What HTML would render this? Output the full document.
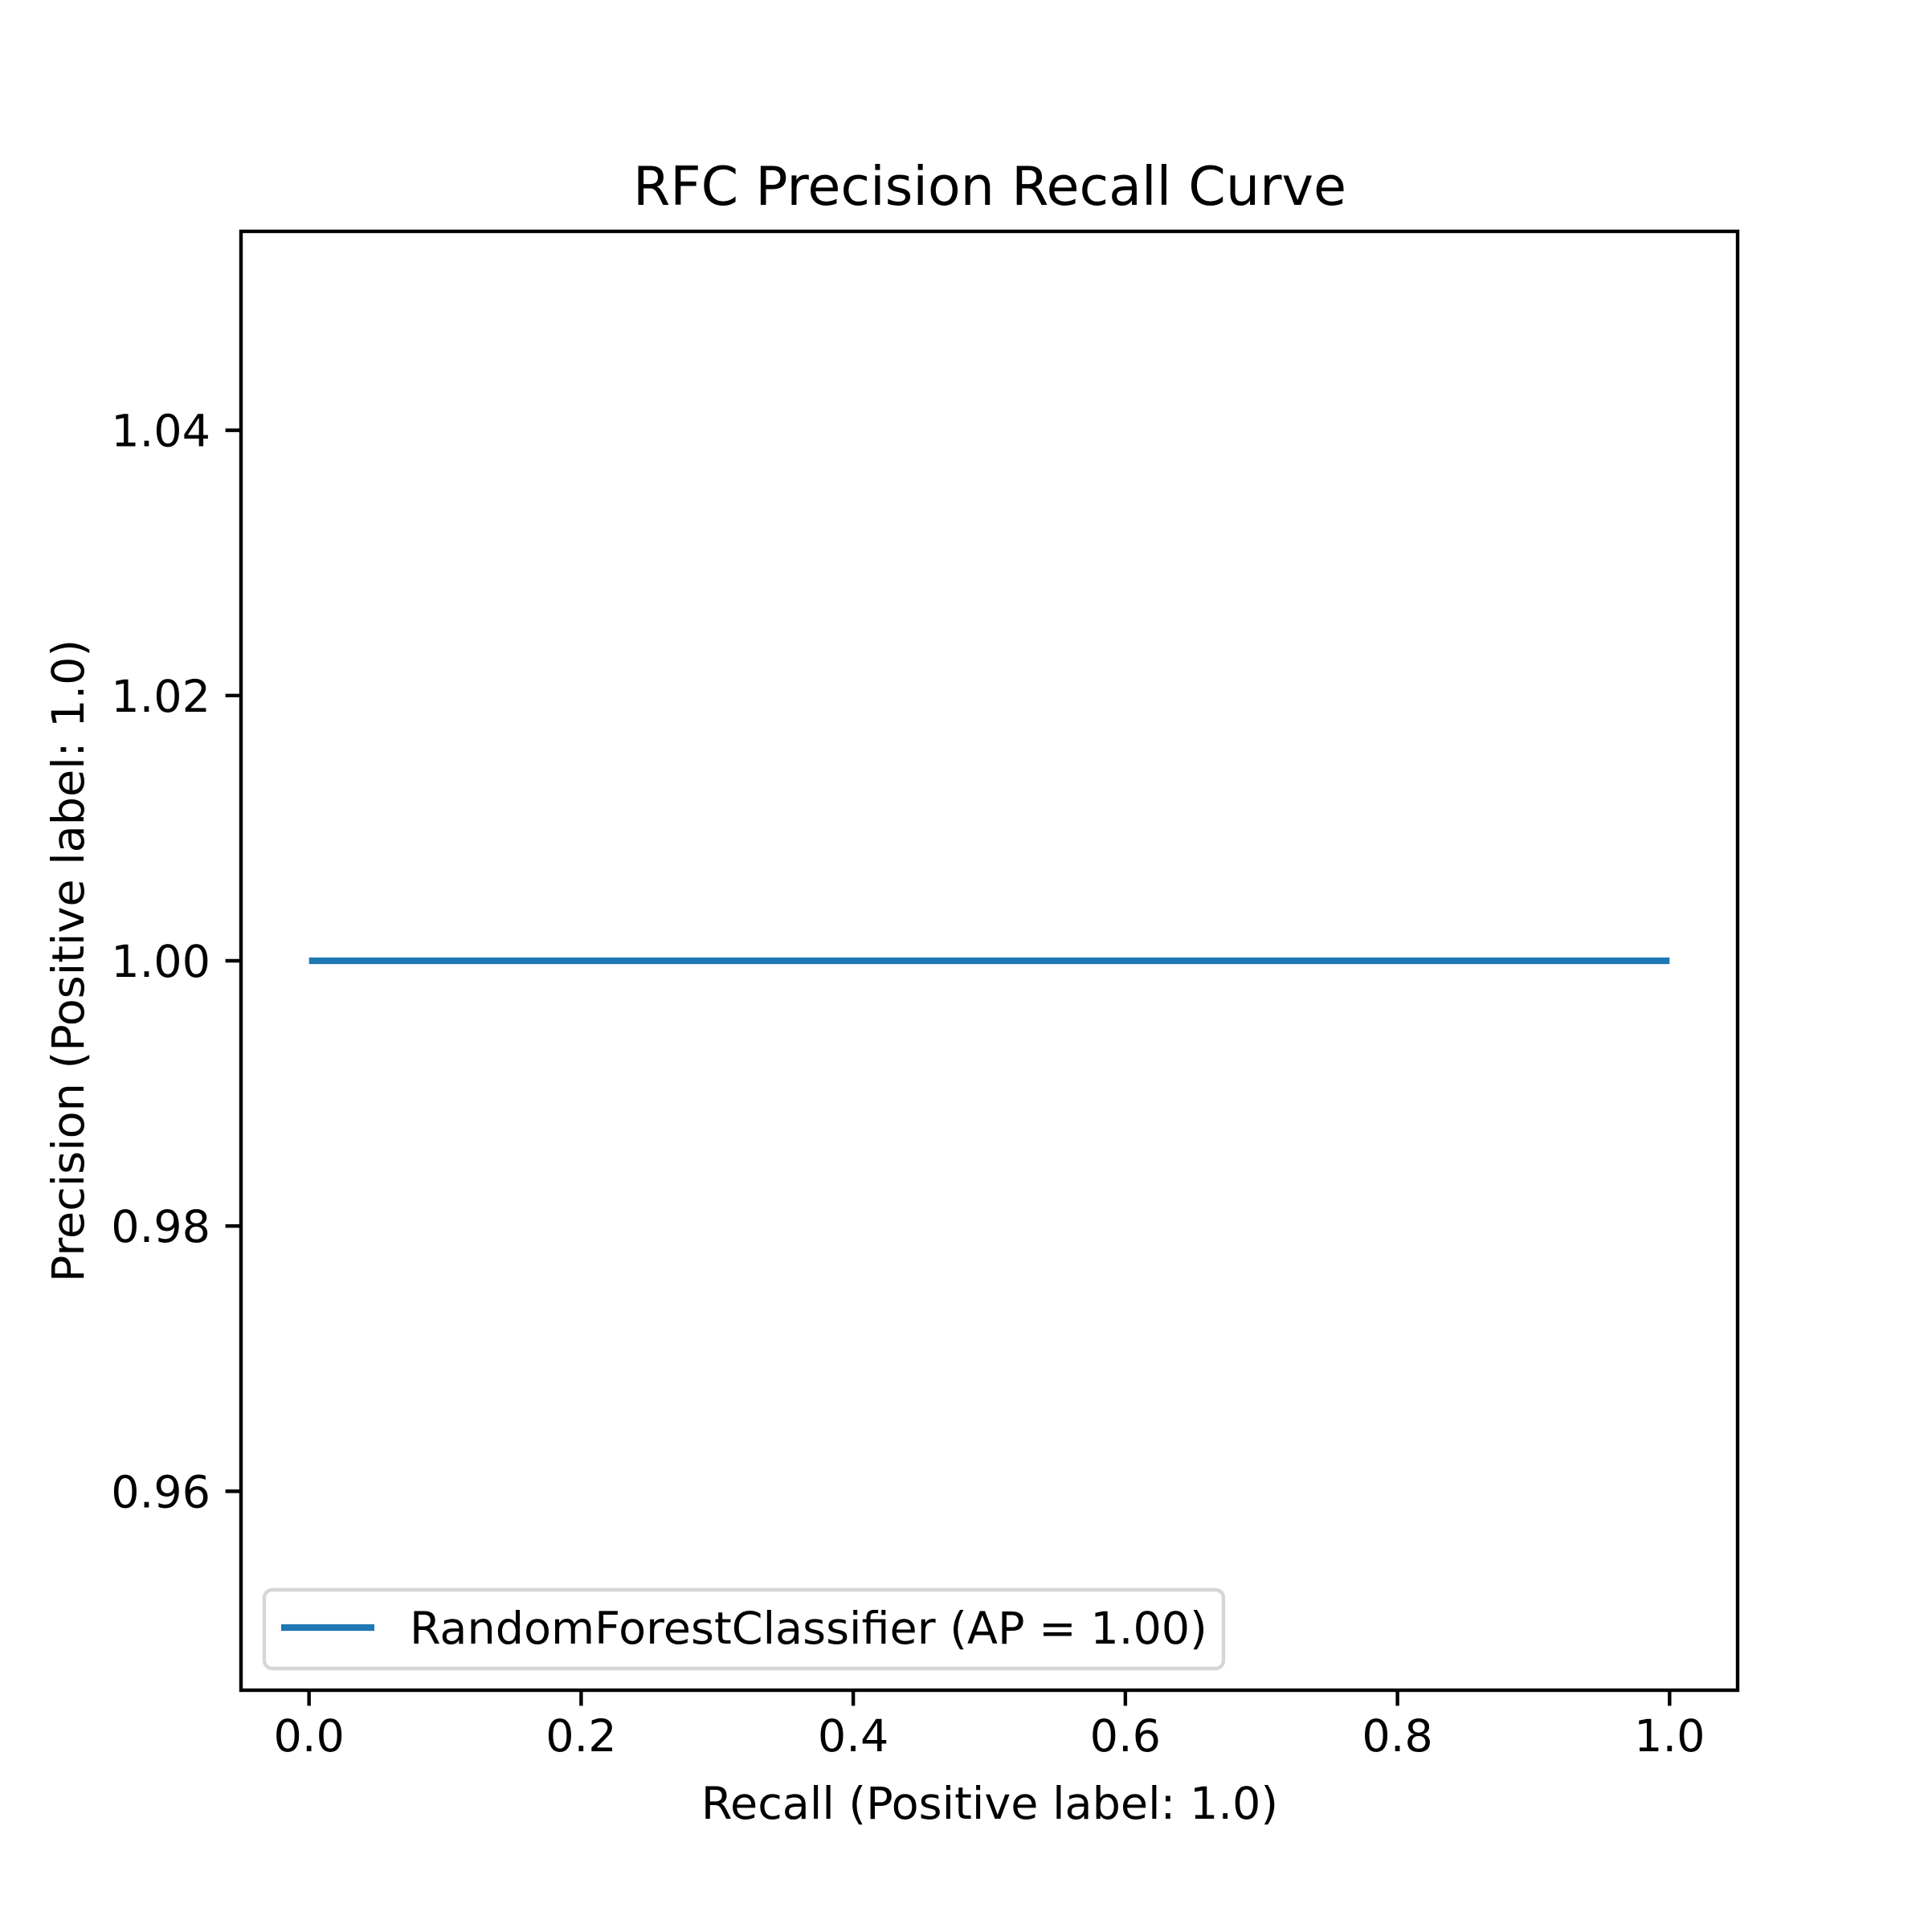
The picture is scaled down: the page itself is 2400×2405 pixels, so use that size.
<!DOCTYPE html>
<html><head><meta charset="utf-8"><style>
html,body{margin:0;padding:0;background:#fff}
svg text{font-family:"DejaVu Sans","Liberation Sans",sans-serif;fill:#000}
</style></head><body>
<svg id="chart" width="2400" height="2400" viewBox="0 0 2400 2400" xmlns="http://www.w3.org/2000/svg">
<rect width="2400" height="2400" fill="#fff"/>
<text x="1232" y="255" font-size="66.7" text-anchor="middle">RFC Precision Recall Curve</text>
<g id="ticks"></g>
<g id="series"></g>
<rect x="300" y="288" width="1863" height="1816" fill="none" stroke="#000" stroke-width="4.4"/>
<text x="1232" y="2264" font-size="55.6" text-anchor="middle">Recall (Positive label: 1.0)</text>
<text transform="translate(104,1196) rotate(-90)" font-size="55.6" text-anchor="middle">Precision (Positive label: 1.0)</text>
<g>
<rect x="329" y="1979" width="1194" height="98" rx="10" fill="#fff" stroke="#d6d6d6" stroke-width="4.4"/>
<line x1="350" y1="2026" x2="466" y2="2026" stroke="#1f77b4" stroke-width="8.3"/>
<text x="510" y="2046" font-size="55.6">RandomForestClassifier (AP = 1.00)</text>
</g>
</svg>
<script>
const recall = [0.0, 1.0];
const precision = [1.0, 1.0];
const xTicks = ["0.0","0.2","0.4","0.6","0.8","1.0"];
const yTicks = ["0.96","0.98","1.00","1.02","1.04"];
const xMin=-0.05,xMax=1.05,yMin=0.945,yMax=1.055;
const L=300,R=2163,T=288,B=2104;
function sx(v){return L+(v-xMin)/(xMax-xMin)*(R-L);}
function sy(v){return B-(v-yMin)/(yMax-yMin)*(B-T);}
const NS="http://www.w3.org/2000/svg";
const tg=document.getElementById('ticks');
xTicks.forEach(t=>{
  const v=parseFloat(t),x=sx(v);
  const l=document.createElementNS(NS,'line');
  l.setAttribute('x1',x);l.setAttribute('x2',x);l.setAttribute('y1',B);l.setAttribute('y2',B+19.4);
  l.setAttribute('stroke','#000');l.setAttribute('stroke-width','4.4');
  
  
  tg.appendChild(l);
  const tx=document.createElementNS(NS,'text');
  tx.setAttribute('x',x);tx.setAttribute('y',B+76);tx.setAttribute('font-size','55.6');tx.setAttribute('text-anchor','middle');
  tx.textContent=t;
  
  
  tg.appendChild(tx);
});
yTicks.forEach(t=>{
  const v=parseFloat(t),y=sy(v);
  const l=document.createElementNS(NS,'line');
  l.setAttribute('x1',L-19.4);l.setAttribute('x2',L);l.setAttribute('y1',y);l.setAttribute('y2',y);
  l.setAttribute('stroke','#000');l.setAttribute('stroke-width','4.4');
  
  
  tg.appendChild(l);
  const tx=document.createElementNS(NS,'text');
  tx.setAttribute('x',L-38);tx.setAttribute('y',y+20);tx.setAttribute('font-size','55.6');tx.setAttribute('text-anchor','end');
  tx.textContent=t;
  
  
  tg.appendChild(tx);
});
const sg=document.getElementById('series');
const p=document.createElementNS(NS,'polyline');
p.setAttribute('points',recall.map((r,i)=>sx(r)+','+sy(precision[i])).join(' '));
p.setAttribute('fill','none');p.setAttribute('stroke','#1f77b4');p.setAttribute('stroke-width','8.3');


sg.appendChild(p);
</script>
</body></html>
